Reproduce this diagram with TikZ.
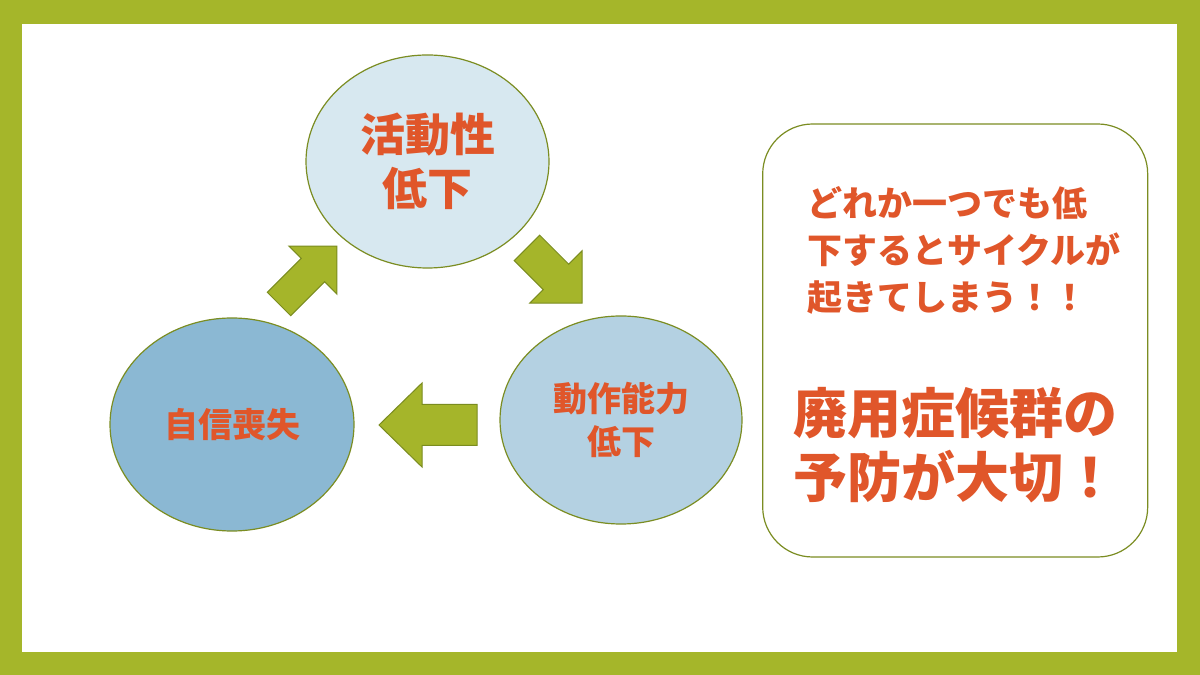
\documentclass[tikz,border=0pt]{standalone}
\usepackage{fontspec}
\newfontfamily\jp{Noto Sans CJK JP}
\usetikzlibrary{shapes.geometric}
\definecolor{frameg}{HTML}{A5B62A}
\definecolor{arrowg}{HTML}{A5B52A}
\definecolor{arrowline}{HTML}{7A8C1F}
\definecolor{ellline}{HTML}{7B8D22}
\definecolor{topfill}{HTML}{D7E8F0}
\definecolor{rightfill}{HTML}{B4D1E2}
\definecolor{leftfill}{HTML}{8BB8D3}
\definecolor{txt}{HTML}{E0562A}
\newcommand\blockarr[7]{%
  \draw[blockarrow,shift={(#1,#2)},rotate=#3]
    (-#4/2,-#7) -- (#4/2-#5,-#7) -- (#4/2-#5,-#6) -- (#4/2,0) --
    (#4/2-#5,#6) -- (#4/2-#5,#7) -- (-#4/2,#7) -- cycle;}
\tikzset{
  blockarrow/.style={fill=arrowg,draw=arrowline,line width=1pt,line join=miter},
  cyc/.style={ellipse,draw=ellline,line width=1.2pt,inner sep=0pt,align=center,
    text=txt,font=\jp\bfseries},
  notebox/.style={rectangle,rounded corners=50pt,draw=ellline,line width=1.2pt,fill=white},
  note/.style={anchor=west,align=left,text=txt,font=\jp\bfseries,inner sep=0pt}
}
\begin{document}
\begin{tikzpicture}[x=1pt,y=1pt]
\useasboundingbox (0,0) rectangle (1200,675);
\fill[frameg] (0,0) rectangle (1200,675);
\fill[white] (22,23.3) rectangle (1176.7,651);
% cycle ellipses
\node[cyc,fill=topfill,minimum width=243pt,minimum height=213pt,
  font=\jp\bfseries\fontsize{45}{54}\selectfont] (act) at (427.5,513.5) {活動性\\低下};
\node[cyc,fill=rightfill,minimum width=242pt,minimum height=208pt,
  font=\jp\bfseries\fontsize{34}{43}\selectfont] (mot) at (621,255) {動作能力\\低下};
\node[cyc,fill=leftfill,minimum width=244pt,minimum height=213pt,
  font=\jp\bfseries\fontsize{34}{41}\selectfont] (conf) at (232,250.5) {自信喪失};
% block arrows
\blockarr{308}{400}{45}{82}{34}{34}{16.5}
\blockarr{554.5}{399.5}{-45}{78}{37}{37}{18}
\blockarr{428}{250}{180}{98}{43}{42}{20.5}
% note box
\node[notebox,minimum width=385pt,minimum height=433pt] (box) at (955.2,334.5) {};
\node[note,font=\jp\bfseries\fontsize{35}{47}\selectfont] (msg) at (807,425)
  {どれか一つでも低\\下するとサイクルが\\起きてしまう！！};
\node[note,font=\jp\bfseries\fontsize{54}{64}\selectfont] (key) at (793,230)
  {廃用症候群の\\予防が大切！};
\end{tikzpicture}
\end{document}
